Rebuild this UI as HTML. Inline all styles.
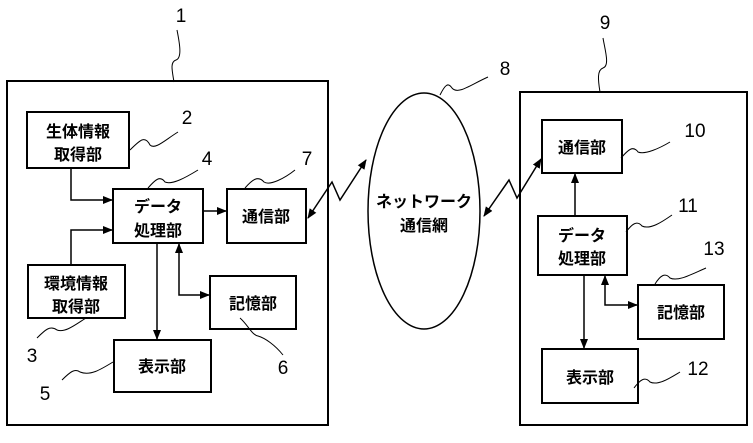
<!DOCTYPE html>
<html><head><meta charset="utf-8"><style>
body{margin:0;background:#fff}
svg text{font-family:"Liberation Sans","Noto Sans CJK JP",sans-serif;fill:#000}
.j{font-size:16px;font-weight:bold;text-anchor:middle}
.n{font-size:19px;text-anchor:middle}
</style></head><body>
<svg width="753" height="438" viewBox="0 0 753 438" xmlns="http://www.w3.org/2000/svg">
<defs><marker id="a" markerWidth="10" markerHeight="10" refX="9" refY="5" orient="auto-start-reverse" markerUnits="userSpaceOnUse"><path d="M0,1 L10,5 L0,9z" fill="#000"/></marker></defs>
<g fill="none" stroke="#000" stroke-width="2">
<rect x="7" y="81" width="321" height="344"/>
<rect x="27" y="112" width="102" height="56"/>
<rect x="113" y="189" width="90" height="54"/>
<rect x="227" y="189" width="79" height="54"/>
<rect x="28" y="265" width="97" height="53"/>
<rect x="210" y="276" width="86" height="53"/>
<rect x="114" y="340" width="97" height="52"/>
<rect x="520" y="92" width="227" height="333"/>
<rect x="542" y="120" width="80" height="53"/>
<rect x="538" y="216" width="89" height="59"/>
<rect x="638" y="285" width="86" height="54"/>
<rect x="542" y="349" width="96" height="54"/>
<ellipse cx="424" cy="211" rx="56" ry="118" stroke-width="1.5"/>
</g>
<g fill="none" stroke="#000" stroke-width="1.5">
<path d="M71,168 V200 H112" marker-end="url(#a)"/>
<path d="M71,265 V230 H112" marker-end="url(#a)"/>
<path d="M203,211 H226" marker-end="url(#a)"/>
<path d="M157,243 V339" marker-end="url(#a)"/>
<path d="M179,244 V295 H209" marker-start="url(#a)" marker-end="url(#a)"/>
<path d="M308,218 L332,182 L340,200 L366,160" marker-start="url(#a)" marker-end="url(#a)"/>
<path d="M484,216 L509,180 L517,198 L541,159" marker-start="url(#a)" marker-end="url(#a)"/>
<path d="M575,216 V174" marker-end="url(#a)"/>
<path d="M584,275 V348" marker-end="url(#a)"/>
<path d="M605,276 V305 H637" marker-start="url(#a)" marker-end="url(#a)"/>
<g stroke-width="1">
<path d="M174,82 C172,70 170,62 176,60 C182,58 180,45 177,30"/>
<path d="M130,150 C140,140 145,135 150,145 C155,150 165,140 178,132"/>
<path d="M148,188 C155,180 160,175 165,182 C172,185 185,178 198,170"/>
<path d="M245,188 C252,180 258,175 264,182 C270,186 285,178 295,170"/>
<path d="M37,338 C45,330 50,325 57,330 C65,333 75,325 86,318"/>
<path d="M62,380 C70,372 75,368 80,372 C90,376 100,370 113,362"/>
<path d="M240,318 C248,325 252,335 258,336 C265,338 275,345 283,355"/>
<path d="M440,95 C445,85 448,82 452,88 C458,95 470,85 488,77"/>
<path d="M600,92 C598,80 597,70 603,68 C610,66 605,50 603,38"/>
<path d="M621,158 C628,150 633,145 638,152 C645,155 660,148 670,142"/>
<path d="M626,232 C632,224 637,220 642,226 C650,230 662,222 672,215"/>
<path d="M655,284 C660,276 665,272 670,278 C678,282 692,274 706,268"/>
<path d="M634,388 C640,380 645,376 650,382 C658,386 670,378 680,372"/>
</g>
</g>
<text class="j" x="78" y="137">生体情報</text>
<text class="j" x="78" y="160">取得部</text>
<text class="j" x="158" y="212">データ</text>
<text class="j" x="158" y="236">処理部</text>
<text class="j" x="266" y="222">通信部</text>
<text class="j" x="76" y="289">環境情報</text>
<text class="j" x="76" y="312">取得部</text>
<text class="j" x="253" y="309">記憶部</text>
<text class="j" x="162" y="372">表示部</text>
<text class="j" x="424" y="207">ネットワーク</text>
<text class="j" x="424" y="231">通信網</text>
<text class="j" x="582" y="153">通信部</text>
<text class="j" x="582" y="241">データ</text>
<text class="j" x="582" y="264">処理部</text>
<text class="j" x="681" y="318">記憶部</text>
<text class="j" x="590" y="383">表示部</text>
<text class="n" x="181" y="22">1</text>
<text class="n" x="187" y="124">2</text>
<text class="n" x="207" y="165">4</text>
<text class="n" x="307" y="165">7</text>
<text class="n" x="32" y="362">3</text>
<text class="n" x="45" y="400">5</text>
<text class="n" x="283" y="374">6</text>
<text class="n" x="505" y="75">8</text>
<text class="n" x="605" y="29">9</text>
<text class="n" x="695" y="137">10</text>
<text class="n" x="688" y="212">11</text>
<text class="n" x="714" y="255">13</text>
<text class="n" x="698" y="375">12</text>
</svg>
</body></html>
